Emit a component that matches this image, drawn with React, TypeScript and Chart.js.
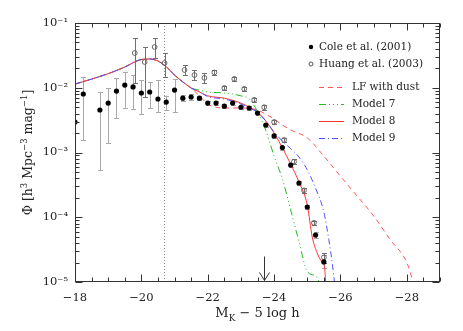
import React, { useEffect, useRef } from 'react';
import { Chart, registerables } from 'chart.js';
Chart.register(...registerables);

// ---------- data ----------
const coleMag = [-18.0, -18.25, -18.75, -19.0, -19.25, -19.5, -19.75, -20.0, -20.25, -20.5, -20.75, -21.0, -21.25, -21.5, -21.75, -22.0, -22.25, -22.5, -22.75, -23.0, -23.25, -23.5, -23.75, -24.0, -24.25, -24.5, -24.75, -25.0, -25.25, -25.5];
const colePhi = [0.00296, 0.0080, 0.00453, 0.0058, 0.0089, 0.0110, 0.0103, 0.0083, 0.0086, 0.0067, 0.0060, 0.0092, 0.0069, 0.0072, 0.0069, 0.0058, 0.0058, 0.0052, 0.0058, 0.0050, 0.00487, 0.00407, 0.00266, 0.00180, 0.00119, 0.00064, 0.000338, 0.000144, 0.000053, 0.0000204];
const coleLo = [null, 0.00156, 0.00054, 0.0014, 0.0034, 0.0049, 0.0047, 0.0039, 0.0049, 0.0042, 0.0045, 0.0042, 0.0062, 0.0065, 0.0064, 0.0054, 0.0054, 0.0048, 0.0054, 0.0047, 0.0045, 0.0038, 0.0025, 0.00168, 0.00111, 0.00059, 0.00031, 0.000132, 0.000047, 0.0000166];
const coleHi = [null, 0.01466, 0.0086, 0.0099, 0.0142, 0.0175, 0.0157, 0.0132, 0.0123, 0.0132, 0.0075, 0.0136, 0.0077, 0.0080, 0.0074, 0.0062, 0.0062, 0.0056, 0.0062, 0.0053, 0.0052, 0.0043, 0.0028, 0.00192, 0.00127, 0.00069, 0.000366, 0.000157, 0.000059, 0.000026];

const huangMag = [-19.8, -20.1, -20.4, -20.7, -21.3, -21.6, -21.9, -22.2, -22.5, -22.8, -23.1, -23.4, -23.7, -24.0, -24.3, -24.6, -24.9, -25.2, -25.5];
const huangPhi = [0.0344, 0.025, 0.0426, 0.0241, 0.0188, 0.0157, 0.0142, 0.0172, 0.0099, 0.0137, 0.0096, 0.0065, 0.0050, 0.00296, 0.00156, 0.00072, 0.00026, 0.000082, 0.000024];
const huangLo = [0.0118, 0.0072, 0.0288, 0.0147, 0.0157, 0.0132, 0.0118, 0.0160, 0.0092, 0.0127, 0.0089, 0.0060, 0.0046, 0.00274, 0.00144, 0.00066, 0.00024, 0.000075, 0.000020];
const huangHi = [0.0586, 0.0426, 0.0586, 0.0344, 0.0225, 0.0188, 0.0169, 0.0185, 0.0107, 0.0148, 0.0104, 0.0070, 0.0054, 0.0032, 0.00168, 0.00078, 0.00028, 0.000089, 0.000028];

// shared faint end of all model curves
const faintMag = [-18.0, -18.5, -19.0, -19.5, -20.0, -20.25, -20.5, -20.75, -21.0, -21.25, -21.5];
const faintPhi = [0.0114, 0.0136, 0.0165, 0.0209, 0.0273, 0.0278, 0.0259, 0.0211, 0.0157, 0.0123, 0.0099];

const dustMag = [-21.75, -22.0, -22.25, -22.5, -23.0, -23.5, -23.75, -24.0, -24.25, -24.5, -25.0, -25.5, -26.0, -26.5, -27.0, -27.5, -28.0, -28.2];
const dustPhi = [0.0075, 0.0056, 0.0050, 0.00487, 0.00487, 0.00453, 0.0039, 0.0033, 0.00266, 0.00223, 0.00168, 0.00088, 0.00043, 0.000213, 0.000105, 0.000045, 0.000020, 0.0000097];

const m7Mag = [-21.75, -22.0, -22.5, -23.0, -23.25, -23.5, -23.75, -24.0, -24.25, -24.5, -24.75, -25.0, -25.25, -25.35, -25.42];
const m7Phi = [0.0092, 0.0086, 0.0083, 0.0075, 0.0067, 0.0043, 0.0022, 0.00088, 0.00039, 0.00013, 0.000042, 0.0000145, 0.0000124, 0.0000102, 0.000008];

const m8Mag = [-21.75, -22.0, -22.5, -23.0, -23.25, -23.5, -23.75, -24.0, -24.25, -24.5, -24.75, -25.0, -25.15, -25.3, -25.45, -25.52, -25.56];
const m8Phi = [0.0086, 0.0075, 0.0069, 0.0058, 0.0050, 0.0042, 0.00307, 0.0020, 0.00118, 0.00066, 0.00035, 0.000155, 0.0000495, 0.000028, 0.000020, 0.000017, 0.000009];

const m9Mag = [-21.75, -22.0, -22.5, -23.0, -23.25, -23.5, -23.75, -24.0, -24.25, -24.5, -24.75, -25.0, -25.25, -25.5, -25.65, -25.75, -25.83];
const m9Phi = [0.0087, 0.0073, 0.0067, 0.0056, 0.00487, 0.0042, 0.00307, 0.00207, 0.0015, 0.00115, 0.00085, 0.00054, 0.00028, 0.00012, 0.000045, 0.000020, 0.000009];

const xTickValues = [-18, -20, -22, -24, -26, -28];
const xTickLabels = ['\u221218', '\u221220', '\u221222', '\u221224', '\u221226', '\u221228'];
const yTickValues = [1e-5, 1e-4, 1e-3, 1e-2, 1e-1];
const yTickLabels = ['10\u207B\u2075', '10\u207B\u2074', '10\u207B\u00B3', '10\u207B\u00B2', '10\u207B\u00B9'];

const legendLabels = ['Cole et al. (2001)', 'Huang et al. (2003)', 'LF with dust', 'Model 7', 'Model 8', 'Model 9'];
const dottedMag = -20.68;
const arrowMag = -23.7;

// ---------- styles ----------
const FONT = '"DejaVu Serif", serif';
const RED_DASH = '#ff5555';
const RED = '#ff3333';
const GREEN = '#22bb22';
const BLUE = '#5050ff';
const DASH_DUST = [5, 4];
const DASH_M7 = [7, 3, 1, 3, 1, 3, 1, 3];
const DASH_M9 = [6, 3, 1, 3];

const pts = (xs: number[], ys: number[]) => xs.map((x, i) => ({ x, y: ys[i] }));
const curve = (xs: number[], ys: number[]) => pts(faintMag.concat(xs), faintPhi.concat(ys));

type Part = { t: string; s?: boolean; b?: boolean };
function drawRich(ctx: CanvasRenderingContext2D, parts: Part[], x: number, y: number, size: number) {
  let w = 0;
  const items = parts.map((p) => {
    const fs = p.s || p.b ? size * 0.68 : size;
    ctx.font = `${fs}px ${FONT}`;
    const mw = ctx.measureText(p.t).width;
    w += mw;
    return { ...p, fs, mw };
  });
  let cx = x - w / 2;
  ctx.textAlign = 'left';
  ctx.textBaseline = 'alphabetic';
  for (const it of items) {
    ctx.font = `${it.fs}px ${FONT}`;
    const dy = it.s ? -size * 0.42 : it.b ? size * 0.28 : 0;
    ctx.fillText(it.t, cx, y + dy);
    cx += it.mw;
  }
}

const errorBarPlugin = {
  id: 'errbars',
  beforeDatasetsDraw(chart: any) {
    const ctx = chart.ctx as CanvasRenderingContext2D;
    const xs = chart.scales.x;
    const ys = chart.scales.y;
    const { left, right, top, bottom } = chart.chartArea;
    ctx.save();
    ctx.beginPath();
    ctx.rect(left, top, right - left, bottom - top);
    ctx.clip();
    // dotted vertical line
    const dx = Math.round(xs.getPixelForValue(dottedMag)) + 0.5;
    ctx.strokeStyle = '#888';
    ctx.lineWidth = 1;
    ctx.setLineDash([1, 2]);
    ctx.beginPath();
    ctx.moveTo(dx, top);
    ctx.lineTo(dx, bottom);
    ctx.stroke();
    ctx.setLineDash([]);
    const drawSet = (mag: number[], lo: (number | null)[], hi: (number | null)[], color: string, cap: number) => {
      ctx.strokeStyle = color;
      ctx.lineWidth = 1;
      mag.forEach((m, i) => {
        const l = lo[i];
        const h = hi[i];
        if (l == null || h == null) return;
        const px = Math.round(xs.getPixelForValue(m)) + 0.5;
        const y1 = ys.getPixelForValue(l);
        const y2 = ys.getPixelForValue(h);
        ctx.beginPath();
        ctx.moveTo(px, y1);
        ctx.lineTo(px, y2);
        ctx.moveTo(px - cap, Math.round(y1) + 0.5);
        ctx.lineTo(px + cap, Math.round(y1) + 0.5);
        ctx.moveTo(px - cap, Math.round(y2) + 0.5);
        ctx.lineTo(px + cap, Math.round(y2) + 0.5);
        ctx.stroke();
      });
    };
    drawSet(coleMag, coleLo, coleHi, '#a8a8a8', 2.5);
    drawSet(huangMag, huangLo, huangHi, '#707070', 2.5);
    ctx.restore();
  },
};

const framePlugin = {
  id: 'frame',
  afterDraw(chart: any) {
    const ctx = chart.ctx as CanvasRenderingContext2D;
    const xs = chart.scales.x;
    const ys = chart.scales.y;
    const { left, right, top, bottom } = chart.chartArea;
    ctx.save();
    ctx.strokeStyle = '#333';
    ctx.lineWidth = 1;
    const L = Math.round(left) + 0.5;
    const R = Math.round(right) - 0.5;
    const T = Math.round(top) + 0.5;
    const B = Math.round(bottom) - 0.5;
    ctx.strokeRect(L, T, R - L, B - T);
    ctx.beginPath();
    // x ticks every 0.5 mag, major every 2
    for (let k = 0; k <= 22; k++) {
      const v = -18 - k * 0.5;
      const px = Math.round(xs.getPixelForValue(v)) + 0.5;
      const len = k % 4 === 0 ? 7 : 4;
      ctx.moveTo(px, B);
      ctx.lineTo(px, B - len);
      ctx.moveTo(px, T);
      ctx.lineTo(px, T + len);
    }
    // y ticks (log)
    for (let e = -5; e <= -2; e++) {
      for (let m = 1; m <= 9; m++) {
        const v = m * Math.pow(10, e);
        const py = Math.round(ys.getPixelForValue(v)) + 0.5;
        const len = m === 1 ? 7 : 4;
        ctx.moveTo(L, py);
        ctx.lineTo(L + len, py);
        ctx.moveTo(R, py);
        ctx.lineTo(R - len, py);
      }
    }
    ctx.stroke();

    // arrow
    const ax = Math.round(xs.getPixelForValue(arrowMag)) + 0.5;
    ctx.beginPath();
    ctx.moveTo(ax, B - 25);
    ctx.lineTo(ax, B - 1);
    ctx.moveTo(ax - 5, B - 9);
    ctx.lineTo(ax, B - 1);
    ctx.lineTo(ax + 5, B - 9);
    ctx.stroke();

    // legend
    ctx.fillStyle = '#222';
    const lx = left + 236;
    const tx = left + 244;
    const rows = [top + 24, top + 41, top + 64, top + 81, top + 98, top + 115];
    ctx.beginPath();
    ctx.arc(lx, rows[0], 2.2, 0, Math.PI * 2);
    ctx.fillStyle = '#000';
    ctx.fill();
    ctx.beginPath();
    ctx.arc(lx, rows[1], 2, 0, Math.PI * 2);
    ctx.strokeStyle = '#555';
    ctx.stroke();
    const lines: [string, number[]][] = [
      [RED_DASH, DASH_DUST],
      [GREEN, DASH_M7],
      [RED, []],
      [BLUE, DASH_M9],
    ];
    lines.forEach(([c, d], i) => {
      ctx.strokeStyle = c;
      ctx.setLineDash(d);
      ctx.beginPath();
      ctx.moveTo(left + 244, Math.round(rows[i + 2]) + 0.5);
      ctx.lineTo(left + 269, Math.round(rows[i + 2]) + 0.5);
      ctx.stroke();
    });
    ctx.setLineDash([]);
    ctx.fillStyle = '#222';
    ctx.font = `10.5px ${FONT}`;
    ctx.textAlign = 'left';
    ctx.textBaseline = 'middle';
    ctx.fillText(legendLabels[0], tx, rows[0]);
    ctx.fillText(legendLabels[1], tx, rows[1]);
    for (let i = 2; i < 6; i++) ctx.fillText(legendLabels[i], left + 277, rows[i]);

    // axis titles
    ctx.fillStyle = '#222';
    drawRich(ctx, [{ t: 'M' }, { t: 'K', b: true }, { t: ' \u2212 5 log h' }], (left + right) / 2, bottom + 35, 13);
    ctx.save();
    ctx.translate(28, (top + bottom) / 2);
    ctx.rotate(-Math.PI / 2);
    drawRich(
      ctx,
      [{ t: '\u03A6 [h' }, { t: '3', s: true }, { t: ' Mpc' }, { t: '\u22123', s: true }, { t: ' mag' }, { t: '\u22121', s: true }, { t: ']' }],
      0,
      4,
      12.5
    );
    ctx.restore();
    ctx.restore();
  },
};

export default function App() {
  const ref = useRef<HTMLCanvasElement | null>(null);
  useEffect(() => {
    if (!ref.current) return;
    const lineDs = (label: string, data: any[], color: string, dash: number[], order: number) => ({
      label,
      data,
      showLine: true,
      borderColor: color,
      borderWidth: 1,
      borderDash: dash,
      pointRadius: 0,
      pointHoverRadius: 0,
      fill: false,
      cubicInterpolationMode: 'monotone',
      order,
    });
    const chart = new Chart(ref.current, {
      type: 'scatter',
      data: {
        datasets: [
          {
            label: legendLabels[0],
            data: pts(coleMag, colePhi),
            pointRadius: 2.6,
            pointBackgroundColor: '#000',
            pointBorderColor: '#000',
            pointBorderWidth: 0,
            showLine: false,
            order: 0,
          },
          {
            label: legendLabels[1],
            data: pts(huangMag, huangPhi),
            pointRadius: 2.4,
            pointBackgroundColor: 'rgba(255,255,255,0)',
            pointBorderColor: '#666',
            pointBorderWidth: 1,
            showLine: false,
            order: 1,
          },
          lineDs(legendLabels[2], curve(dustMag, dustPhi), RED_DASH, DASH_DUST, 5),
          lineDs(legendLabels[3], curve(m7Mag, m7Phi), GREEN, DASH_M7, 4),
          lineDs(legendLabels[4], curve(m8Mag, m8Phi), RED, [], 3),
          lineDs(legendLabels[5], curve(m9Mag, m9Phi), BLUE, DASH_M9, 2),
        ] as any,
      },
      options: {
        animation: false,
        responsive: false,
        events: [],
        layout: { padding: { top: 23, right: 23, left: 0, bottom: 0 } },
        plugins: { legend: { display: false }, tooltip: { enabled: false } },
        scales: {
          x: {
            type: 'linear',
            reverse: true,
            min: -29,
            max: -18,
            grid: { display: false, drawTicks: false },
            border: { display: false },
            afterBuildTicks: (s: any) => {
              s.ticks = xTickValues.map((value) => ({ value }));
            },
            afterFit: (s: any) => {
              s.height = 49;
            },
            ticks: {
              padding: 9,
              color: '#222',
              font: { family: FONT, size: 11.5 },
              maxRotation: 0,
              autoSkip: false,
              callback: (v: any) => {
                const i = xTickValues.indexOf(Number(v));
                return i >= 0 ? xTickLabels[i] : '';
              },
            },
          },
          y: {
            type: 'logarithmic',
            min: 1e-5,
            max: 1e-1,
            grid: { display: false, drawTicks: false },
            border: { display: false },
            afterBuildTicks: (s: any) => {
              s.ticks = yTickValues.map((value) => ({ value }));
            },
            afterFit: (s: any) => {
              s.width = 75;
            },
            ticks: {
              padding: 7,
              color: '#222',
              font: { family: FONT, size: 11.5 },
              autoSkip: false,
              callback: (v: any) => {
                const i = yTickValues.findIndex((t) => Math.abs(t - Number(v)) / t < 1e-6);
                return i >= 0 ? yTickLabels[i] : '';
              },
            },
          },
        },
      },
      plugins: [errorBarPlugin, framePlugin],
    } as any);
    return () => chart.destroy();
  }, []);
  return (
    <div style={{ position: 'fixed', left: 0, top: 0, width: 463, height: 331, background: '#fff' }}>
      <canvas ref={ref} width={463} height={331} style={{ display: 'block' }} />
    </div>
  );
}
